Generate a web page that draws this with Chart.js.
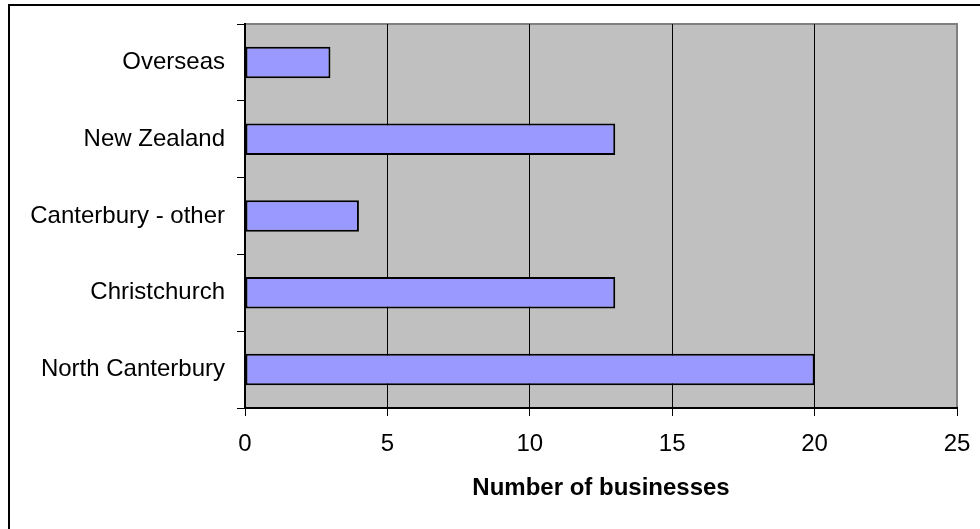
<!DOCTYPE html>
<html>
<head>
<meta charset="utf-8">
<script src="https://cdn.jsdelivr.net/npm/chart.js@4.4.0/dist/chart.umd.min.js"></script>
<style>
  html, body { margin: 0; padding: 0; background: #fff; }
  #wrap { position: relative; width: 980px; height: 529px; }
  #frame { position: absolute; left: 8px; top: 4px; width: 980px; height: 540px;
           border-top: 2px solid #000; border-left: 2px solid #000; box-sizing: border-box; }
  canvas { position: absolute; left: 0; top: 0; }
</style>
</head>
<body>
<div id="wrap">
  <div id="frame"></div>
  <canvas id="chartBiz" width="980" height="529"></canvas>
</div>
<script>
var labels = ['Overseas', 'New Zealand', 'Canterbury - other', 'Christchurch', 'North Canterbury'];
var businesses = [3, 13, 4, 13, 20];
var xTicks = [0, 5, 10, 15, 20, 25];
var axisTitle = 'Number of businesses';

var ctx = document.getElementById('chartBiz').getContext('2d');

// grey plot background with a darker frame, like the old Excel charts
var plotBg = {
    id: 'plotBg',
    beforeDraw: function (chart) {
        var a = chart.chartArea;
        var c = chart.ctx;
        c.save();
        c.fillStyle = '#C0C0C0';
        c.fillRect(a.left, a.top, a.right - a.left, a.bottom - a.top);
        c.strokeStyle = '#808080';
        c.lineWidth = 2;
        c.strokeRect(a.left, a.top, a.right - a.left, a.bottom - a.top);
        c.restore();
    }
};

let myChart = new Chart(ctx, {
    type: 'bar',
    data: {
        labels: labels,
        datasets: [{
            data: businesses,
            backgroundColor: '#9999FF',
            borderColor: '#000000',
            borderWidth: 2,
            borderSkipped: false,
            barPercentage: 0.41,
            categoryPercentage: 1
        }]
    },
    options: {
        indexAxis: 'y',
        responsive: false,
        animation: false,
        layout: { padding: { top: 24, right: 23, left: 0, bottom: 22 } },
        plugins: {
            legend: { display: false },
            tooltip: { enabled: false }
        },
        scales: {
            x: {
                min: 0,
                max: 25,
                afterBuildTicks: function (scale) {
                    scale.ticks = xTicks.map(function (v) { return { value: v }; });
                },
                afterFit: function (scale) {
                    scale.height = 99;
                    scale.paddingLeft = 0;
                    scale.paddingRight = 0;
                },
                grid: {
                    color: function (c) { return c.tick && c.tick.value === 25 ? '#808080' : '#000000'; },
                    tickColor: '#000000',
                    tickLength: 8,
                    lineWidth: 1
                },
                border: { color: '#000000', width: 2 },
                ticks: {
                    color: '#000000',
                    padding: 14,
                    font: { family: 'Liberation Sans, Arial', size: 24 }
                },
                title: {
                    display: true,
                    text: axisTitle,
                    color: '#000000',
                    padding: { top: 14 },
                    font: { family: 'Liberation Sans, Arial', size: 24, weight: 'bold' }
                }
            },
            y: {
                afterFit: function (scale) {
                    scale.width = 245;
                    scale.paddingTop = 0;
                    scale.paddingBottom = 0;
                },
                grid: {
                    offset: true,
                    drawOnChartArea: false,
                    tickColor: '#000000',
                    tickLength: 8
                },
                border: { color: '#000000', width: 2 },
                ticks: {
                    color: '#000000',
                    padding: 12,
                    font: { family: 'Liberation Sans, Arial', size: 24 }
                }
            }
        }
    },
    plugins: [plotBg]
});
</script>
</body>
</html>
